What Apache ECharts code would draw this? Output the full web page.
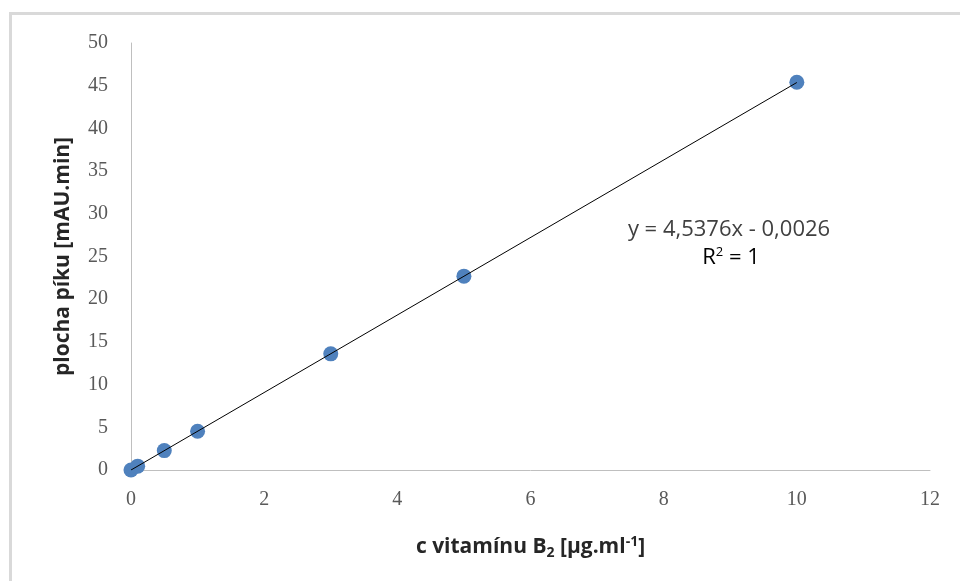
<!DOCTYPE html>
<html><head><meta charset="utf-8">
<script src="https://cdn.jsdelivr.net/npm/echarts@6/dist/echarts.min.js"></script>
<style>html,body{margin:0;padding:0;background:#fff}#c{width:960px;height:581px}</style>
</head><body><div id="c"></div>
<script>
const concentrations = [0, 0.1, 0.5, 1, 3, 5, 10];
const peakAreas = [0, 0.45, 2.27, 4.54, 13.6, 22.7, 45.4];
const slope = 4.5376, intercept = -0.0026;
const trendX = [0, 10];
const xTicks = [0, 2, 4, 6, 8, 10, 12];
const yTicks = [0, 5, 10, 15, 20, 25, 30, 35, 40, 45, 50];

const chart = echarts.init(document.getElementById('c'), null, {renderer: 'canvas'});
const sans = 'Open Sans, Noto Sans, sans-serif';
const tickFont = {color: '#595959', fontSize: 20, fontFamily: 'Liberation Serif, DejaVu Serif, serif'};
chart.setOption({
  animation: false,
  backgroundColor: '#fff',
  graphic: [
    {type: 'rect', shape: {x: 10.5, y: 13.5, width: 980, height: 600}, style: {fill: 'none', stroke: '#d9d9d9', lineWidth: 3}, z: -1},
    {type: 'text', x: 729, y: 230, style: {
      text: 'y = 4,5376x - 0,0026', fontSize: 22, fontFamily: sans, fill: '#404040',
      align: 'center', verticalAlign: 'middle'}},
    {type: 'text', x: 731, y: 258, style: {
      text: '{a|R}{s|2}{a| = 1}', align: 'center', verticalAlign: 'middle',
      rich: {a: {fontSize: 22, fontFamily: sans, color: '#404040'},
             s: {fontSize: 13, fontFamily: sans, color: '#404040', padding: [0,0,12,0]}}}}
  ],
  grid: {left: 131, right: 30, top: 43, bottom: 111, containLabel: false},
  xAxis: {
    type: 'value', min: 0, max: 12, interval: 2,
    axisLine: {lineStyle: {color: '#bfbfbf', width: 1}},
    axisTick: {show: false}, splitLine: {show: false},
    axisLabel: Object.assign({margin: 20, formatter: v => xTicks.includes(v) ? String(v) : ''}, tickFont),
    name: '{b|c vitamínu B}{sub|2}{b| [µg.ml}{sup|-1}{b|]}',
    nameLocation: 'middle', nameGap: 64,
    nameTextStyle: {rich: {
      b: {fontSize: 21, fontWeight: 'bold', fontFamily: sans, color: '#262626'},
      sub: {fontSize: 14, fontWeight: 'bold', fontFamily: sans, color: '#262626', padding: [12,0,0,0]},
      sup: {fontSize: 14, fontWeight: 'bold', fontFamily: sans, color: '#262626', padding: [0,0,10,0]}
    }}
  },
  yAxis: {
    type: 'value', min: 0, max: 50, interval: 5,
    axisLine: {show: true, lineStyle: {color: '#bfbfbf', width: 1}},
    axisTick: {show: false}, splitLine: {show: false},
    axisLabel: Object.assign({margin: 23, formatter: v => yTicks.includes(v) ? String(v) : ''}, tickFont),
    name: 'plocha píku [mAU.min]', nameLocation: 'middle', nameGap: 57,
    nameTextStyle: {fontSize: 21, fontWeight: 'bold', fontFamily: sans, color: '#262626'}
  },
  series: [
    {type: 'scatter', data: concentrations.map((x, i) => [x, peakAreas[i]]), symbolSize: 15,
     itemStyle: {color: '#4f81bd', opacity: 1}, z: 2},
    {type: 'line', data: trendX.map(x => [x, slope * x + intercept]), symbol: 'none',
     lineStyle: {color: '#000', width: 1}, z: 3, silent: true}
  ]
});
</script></body></html>
